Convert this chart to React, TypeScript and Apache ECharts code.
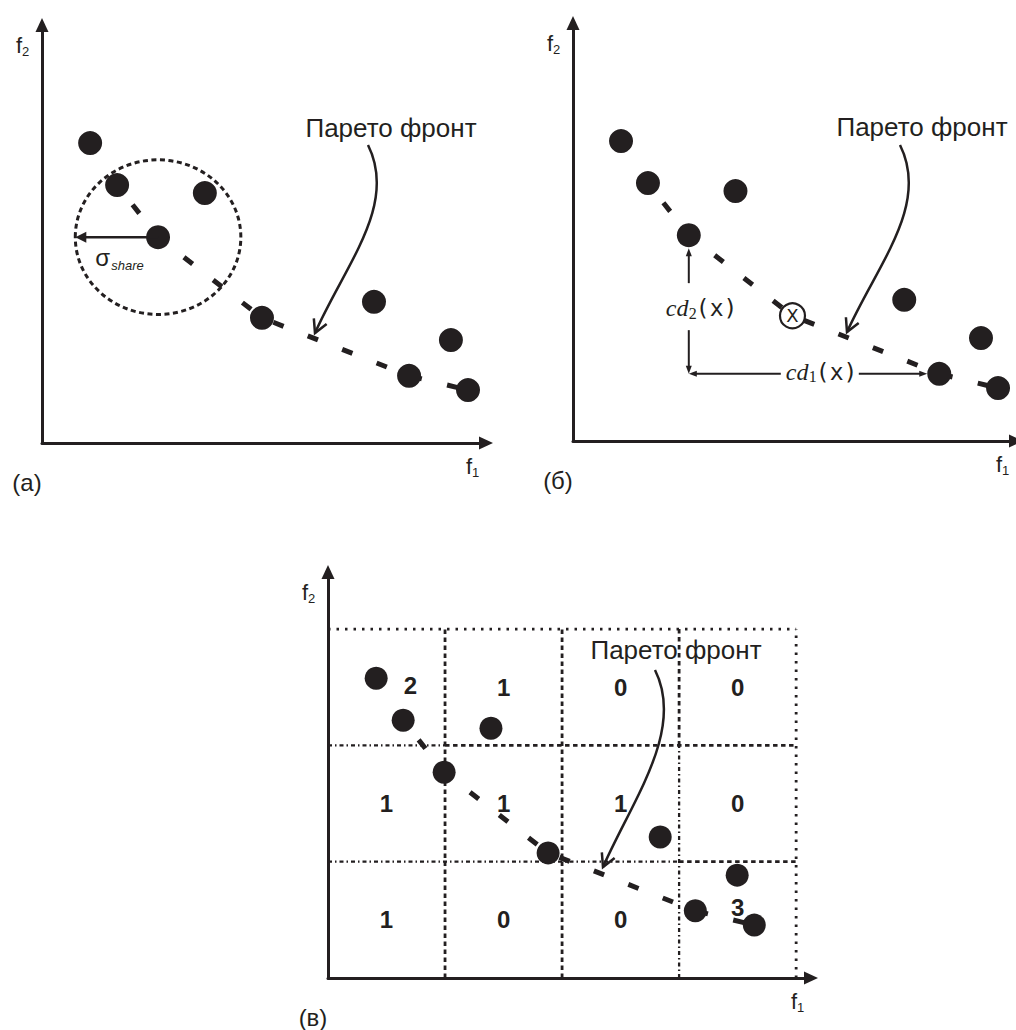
import React, { useEffect, useRef } from "react";
import * as echarts from "echarts";

const INK = "#231f20";
const SANS = '"Liberation Sans", Arial, sans-serif';
const SERIF = '"Liberation Serif", "DejaVu Serif", serif';
const MONO = '"DejaVu Sans Mono", monospace';

// ---- data (objective units) ----
const f1Values = [10.7, 16.7, 36.2, 25.8, 48.9, 73.8, 90.9, 81.6, 94.7];
const f2Values = [71.4, 61.4, 59.5, 49.0, 29.8, 33.6, 24.5, 16.0, 12.6];
const frontIndices = [1, 3, 4, 7, 8];
const crowdedIndex = 4;
const nicheIndex = 3;
const sigmaShare = 18.4;
const cdNeighbours = [3, 7];
const cellEdgesF1 = [0, 26, 52, 78, 104];
const cellEdgesF2 = [0, 27.7, 55.4, 83.1];
// rows from bottom to top
const cellCounts = [
  [1, 0, 0, 3],
  [1, 1, 1, 0],
  [2, 1, 0, 0],
];
const panelLabels = ["(а)", "(б)", "(в)"];
const frontLabel = "Парето фронт";

// ---- layout ----
const GRIDS = [
  { left: 42, top: 25, width: 444, height: 418, xMax: 98.7, yMax: 99.5 },
  { left: 573, top: 23, width: 444, height: 418, xMax: 98.7, yMax: 99.5 },
  { left: 328, top: 572, width: 483, height: 406, xMax: 107.3, yMax: 96.7 },
];
const FRONT_NOTES = [
  { text: [391, 128], curve: [368, 145, 398, 205, 345, 265, 315, 333] },
  { text: [922, 127], curve: [900, 145, 930, 205, 877, 265, 847, 332] },
  { text: [676, 650], curve: [655, 670, 685, 730, 633, 799, 603, 867] },
];
const COUNT_NUDGE: Record<string, number[]> = { "2-0": [24, -2], "0-3": [0, -12] };

const DASH = {
  dot: { type: [2.5, 6], width: 2.8 },
  dash: { type: [4.5, 3.5], width: 2.8 },
  dashdot: { type: [4, 3, 1.5, 3], width: 2.3 },
};

function buildOption() {
  const axis = (gi: number, max: number) => ({
    type: "value",
    gridIndex: gi,
    min: 0,
    max,
    axisLine: {
      show: true,
      onZero: false,
      symbol: ["none", "triangle"],
      symbolSize: [13, 14],
      lineStyle: { color: INK, width: 3 },
    },
    axisTick: { show: false },
    axisLabel: { show: false },
    splitLine: { show: false },
  });

  const pts = f1Values.map((x, i) => [x, f2Values[i]]);
  const front = frontIndices.map((i) => pts[i]);
  const series: any[] = [];

  const frontSeries = (gi: number) => ({
    type: "line",
    xAxisIndex: gi,
    yAxisIndex: gi,
    data: front,
    symbol: "none",
    silent: true,
    z: 3,
    lineStyle: { color: INK, width: 5, opacity: 1, type: [11, 26], dashOffset: 12, cap: "butt" },
  });
  const dots = (gi: number, data: number[][], size: number) => ({
    type: "scatter",
    xAxisIndex: gi,
    yAxisIndex: gi,
    data,
    symbolSize: size,
    silent: true,
    z: 5,
    itemStyle: { color: INK, opacity: 1 },
  });

  // grid lines of panel (в)
  const top = cellEdgesF2[cellEdgesF2.length - 1];
  const right = cellEdgesF1[cellEdgesF1.length - 1];
  const segs: { a: number[]; b: number[]; s: keyof typeof DASH }[] = [
    { a: [0, top], b: [right, top], s: "dot" },
    { a: [right, 0], b: [right, top], s: "dot" },
    { a: [0, cellEdgesF2[2]], b: [cellEdgesF1[1], cellEdgesF2[2]], s: "dashdot" },
    { a: [cellEdgesF1[1], cellEdgesF2[2]], b: [right, cellEdgesF2[2]], s: "dash" },
    { a: [0, cellEdgesF2[1]], b: [cellEdgesF1[3], cellEdgesF2[1]], s: "dashdot" },
    { a: [cellEdgesF1[3], cellEdgesF2[1]], b: [right, cellEdgesF2[1]], s: "dash" },
    { a: [cellEdgesF1[1], 0], b: [cellEdgesF1[1], top], s: "dash" },
    { a: [cellEdgesF1[2], 0], b: [cellEdgesF1[2], top], s: "dash" },
    { a: [cellEdgesF1[3], 0], b: [cellEdgesF1[3], cellEdgesF2[2]], s: "dashdot" },
    { a: [cellEdgesF1[3], cellEdgesF2[2]], b: [cellEdgesF1[3], top], s: "dash" },
  ];
  segs.forEach((sg) =>
    series.push({
      type: "line",
      xAxisIndex: 2,
      yAxisIndex: 2,
      data: [sg.a, sg.b],
      symbol: "none",
      silent: true,
      z: 1,
      lineStyle: { color: INK, opacity: 1, width: DASH[sg.s].width, type: DASH[sg.s].type, cap: "butt" },
    })
  );

  series.push(frontSeries(0), dots(0, pts, 24));
  series.push(
    frontSeries(1),
    dots(1, pts.filter((_, i) => i !== crowdedIndex), 24),
    {
      type: "scatter",
      xAxisIndex: 1,
      yAxisIndex: 1,
      data: [pts[crowdedIndex]],
      symbolSize: 25,
      silent: true,
      z: 6,
      itemStyle: { color: "#ffffff", borderColor: INK, borderWidth: 2.2, opacity: 1 },
      label: {
        show: true,
        position: "inside",
        formatter: "X",
        color: INK,
        textBorderWidth: 0,
        fontSize: 18,
        fontFamily: '"DejaVu Sans", sans-serif',
      },
    }
  );
  series.push(frontSeries(2), dots(2, pts, 23));

  const countData: any[] = [];
  cellCounts.forEach((row, r) =>
    row.forEach((n, c) => {
      const item: any = {
        value: [
          (cellEdgesF1[c] + cellEdgesF1[c + 1]) / 2,
          (cellEdgesF2[r] + cellEdgesF2[r + 1]) / 2,
          n,
        ],
      };
      const nudge = COUNT_NUDGE[`${r}-${c}`];
      if (nudge) item.label = { offset: nudge };
      countData.push(item);
    })
  );
  series.push({
    type: "scatter",
    xAxisIndex: 2,
    yAxisIndex: 2,
    data: countData,
    symbolSize: 1,
    silent: true,
    z: 7,
    itemStyle: { color: "rgba(0,0,0,0)", opacity: 1 },
    label: {
      show: true,
      position: "inside",
      formatter: (p: any) => String(p.value[2]),
      color: INK,
      opacity: 1,
      textBorderWidth: 0,
      fontSize: 24,
      fontWeight: "bold",
      fontFamily: SANS,
    },
  });

  return {
    animation: false,
    backgroundColor: "#ffffff",
    grid: GRIDS.map((g) => ({ left: g.left, top: g.top, width: g.width, height: g.height, containLabel: false })),
    xAxis: GRIDS.map((g, i) => axis(i, g.xMax)),
    yAxis: GRIDS.map((g, i) => axis(i, g.yMax)),
    series,
  };
}

function txt(text: string, x: number, y: number, font: string, align = "left") {
  return {
    type: "text",
    silent: true,
    z: 50,
    style: {
      text,
      x,
      y,
      font,
      fill: INK,
      align,
      verticalAlign: "middle",
      textAlign: align,
      textVerticalAlign: "middle",
    },
  };
}

function head(tip: number[], from: number[], len: number, half: number, filled: boolean) {
  const dx = tip[0] - from[0];
  const dy = tip[1] - from[1];
  const L = Math.hypot(dx, dy);
  const ux = dx / L;
  const uy = dy / L;
  const bx = tip[0] - ux * len;
  const by = tip[1] - uy * len;
  const p1 = [bx - uy * half, by + ux * half];
  const p2 = [bx + uy * half, by - ux * half];
  return filled
    ? { type: "polygon", silent: true, z: 50, shape: { points: [tip, p1, p2] }, style: { fill: INK } }
    : {
        type: "polyline",
        silent: true,
        z: 50,
        shape: { points: [p1, tip, p2] },
        style: { stroke: INK, lineWidth: 2.5, fill: null },
      };
}

function seg(a: number[], b: number[], w: number) {
  return {
    type: "line",
    silent: true,
    z: 50,
    shape: { x1: a[0], y1: a[1], x2: b[0], y2: b[1] },
    style: { stroke: INK, lineWidth: w },
  };
}

function buildGraphics(chart: any) {
  const P = (gi: number, x: number, y: number) => chart.convertToPixel({ gridIndex: gi }, [x, y]) as number[];
  const els: any[] = [];

  GRIDS.forEach((g, gi) => {
    const o = P(gi, 0, 0);
    const xTip = P(gi, g.xMax, 0)[0] + 7;
    const yTip = P(gi, 0, g.yMax)[1] - 7;
    els.push(txt("f", o[0] - 23, yTip + 27, `22px ${SANS}`, "center"));
    els.push(txt("2", o[0] - 20, yTip + 33, `13px ${SANS}`));
    els.push(txt("f", xTip - 24, o[1] + 23, `22px ${SANS}`, "center"));
    els.push(txt("1", xTip - 21, o[1] + 29, `13px ${SANS}`));
    els.push(txt(panelLabels[gi], o[0] - 15, o[1] + 39, `24px ${SANS}`, "center"));

    const n = FRONT_NOTES[gi];
    els.push(txt(frontLabel, n.text[0], n.text[1], `26px ${SANS}`, "center"));
    const c = n.curve;
    els.push({
      type: "bezierCurve",
      silent: true,
      z: 50,
      shape: { x1: c[0], y1: c[1], cpx1: c[2], cpy1: c[3], cpx2: c[4], cpy2: c[5], x2: c[6], y2: c[7] },
      style: { stroke: INK, lineWidth: 2.5, fill: null },
    });
    els.push(head([c[6], c[7]], [c[4], c[5]], 13, 7, false));
  });

  // panel (а): sharing niche
  const ctr = P(0, f1Values[nicheIndex], f2Values[nicheIndex]);
  const rx = P(0, f1Values[nicheIndex] + sigmaShare, f2Values[nicheIndex])[0] - ctr[0];
  const ry = ctr[1] - P(0, f1Values[nicheIndex], f2Values[nicheIndex] + sigmaShare)[1];
  els.push({
    type: "ellipse",
    silent: true,
    z: 40,
    shape: { cx: ctr[0], cy: ctr[1], rx, ry },
    style: { fill: null, stroke: INK, lineWidth: 3, lineDash: [5, 3.5] },
  });
  const tipL = [ctr[0] - rx, ctr[1]];
  els.push(seg(ctr, [tipL[0] + 9, tipL[1]], 2.5));
  els.push(head(tipL, ctr, 11, 5.5, true));
  els.push(txt("σ", tipL[0] + 20, ctr[1] + 20, `24px ${SANS}`));
  els.push(txt("share", tipL[0] + 36, ctr[1] + 28, `italic 13px ${SANS}`));

  // panel (б): crowding distance
  const a = P(1, f1Values[cdNeighbours[0]], f2Values[cdNeighbours[0]]);
  const b = P(1, f1Values[cdNeighbours[1]], f2Values[cdNeighbours[1]]);
  const corner = [a[0], b[1]];
  const vTop = [a[0], a[1] + 13];
  els.push(seg([a[0], vTop[1] + 5], [a[0], a[1] + 48], 2));
  els.push(seg([a[0], a[1] + 95], [a[0], corner[1] - 5], 2));
  els.push(head(vTop, [a[0], a[1] + 40], 8, 3, true));
  els.push(head(corner, [a[0], corner[1] - 30], 8, 3, true));
  const hEnd = [b[0] - 12, b[1]];
  els.push(seg([corner[0] + 5, b[1]], [a[0] + 92, b[1]], 2));
  els.push(seg([a[0] + 170, b[1]], [hEnd[0] - 5, b[1]], 2));
  els.push(head(corner, [corner[0] + 30, b[1]], 8, 3, true));
  els.push(head(hEnd, [hEnd[0] - 30, b[1]], 8, 3, true));

  els.push(txt("cd", a[0] - 23, a[1] + 73, `italic 24px ${SERIF}`));
  els.push(txt("2", a[0], a[1] + 78, `16px ${SERIF}`));
  els.push(txt("(x)", a[0] + 7, a[1] + 73, `23px ${MONO}`));
  els.push(txt("cd", a[0] + 97, b[1] - 2, `italic 24px ${SERIF}`));
  els.push(txt("1", a[0] + 120, b[1] + 3, `16px ${SERIF}`));
  els.push(txt("(x)", a[0] + 127, b[1] - 2, `23px ${MONO}`));

  return els;
}

export default function App() {
  const ref = useRef<HTMLDivElement>(null);
  useEffect(() => {
    const chart = echarts.init(ref.current!, null, { renderer: "svg" });
    chart.setOption(buildOption() as any);
    chart.setOption({ graphic: { elements: buildGraphics(chart) } } as any);
    return () => chart.dispose();
  }, []);
  return (
    <div
      ref={ref}
      style={{ position: "absolute", left: 0, top: 0, width: 1016, height: 1030, background: "#ffffff" }}
    />
  );
}
